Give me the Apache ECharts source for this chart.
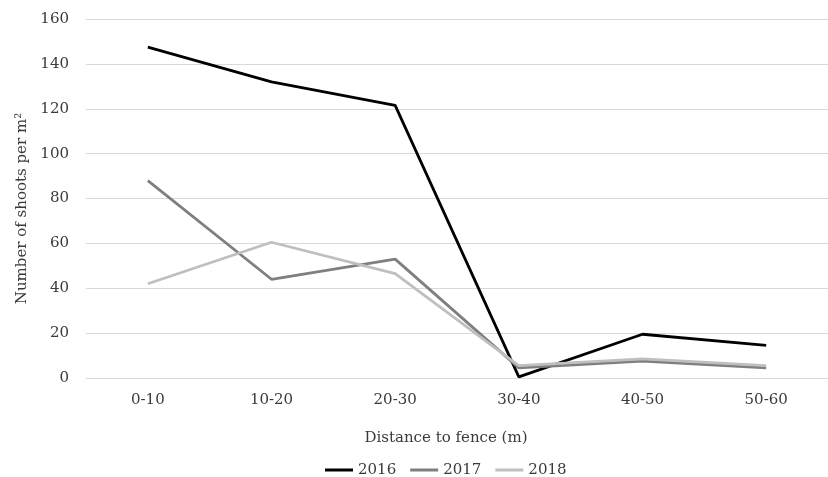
<!DOCTYPE html>
<html><head><meta charset="utf-8">
<script src="https://cdn.jsdelivr.net/npm/echarts@6/dist/echarts.min.js"></script>
<style>html,body{margin:0;padding:0;background:#fff}#c{width:828px;height:477px}</style>
</head><body><div id="c"></div>
<script>
const categories = ['0-10','10-20','20-30','30-40','40-50','50-60'];
const s2016 = [147.5, 132, 121.5, 0.5, 19.5, 14.5];
const s2017 = [88, 44, 53, 4.5, 7.5, 4.5];
const s2018 = [42, 60.5, 46.5, 5.5, 8.5, 5.5];
const yTicks = {min: 0, max: 160, interval: 20};
const font = '"DejaVu Serif", "Liberation Serif", serif';
const txt = '#3a3a3a';
const chart = echarts.init(document.getElementById('c'));
function line(name, data, color) {
  return {name, type: 'line', data, symbol: 'none', lineStyle: {color, width: 2.8}, itemStyle: {color}};
}
chart.setOption({
  animation: false,
  textStyle: {fontFamily: font},
  grid: {left: 86, right: 0, top: 19, bottom: 99},
  legend: {
    top: 457, left: 320, icon: 'rect', itemWidth: 28, itemHeight: 3, itemGap: 14,
    textStyle: {fontFamily: font, fontSize: 15, color: txt, lineHeight: 16},
    data: ['2016','2017','2018']
  },
  xAxis: {
    type: 'category', data: categories, boundaryGap: true,
    axisLine: {show: false}, axisTick: {show: false},
    axisLabel: {fontFamily: font, fontSize: 15, color: txt, margin: 15},
    name: 'Distance to fence (m)', nameLocation: 'middle', nameGap: 53,
    nameTextStyle: {fontFamily: font, fontSize: 15, color: txt, padding: [0, 22, 0, 0]}
  },
  yAxis: {
    type: 'value', min: yTicks.min, max: yTicks.max, interval: yTicks.interval,
    axisLine: {show: false}, axisTick: {show: false},
    axisLabel: {fontFamily: font, fontSize: 15, color: txt, margin: 17},
    splitLine: {lineStyle: {color: '#d9d9d9', width: 1}},
    name: 'Number of shoots per m²', nameLocation: 'middle', nameGap: 56,
    nameTextStyle: {fontFamily: font, fontSize: 15, color: txt, padding: [0, 20, 0, 0]}
  },
  series: [line('2016', s2016, '#000000'), line('2017', s2017, '#7f7f7f'), line('2018', s2018, '#bfbfbf')]
});
</script></body></html>
